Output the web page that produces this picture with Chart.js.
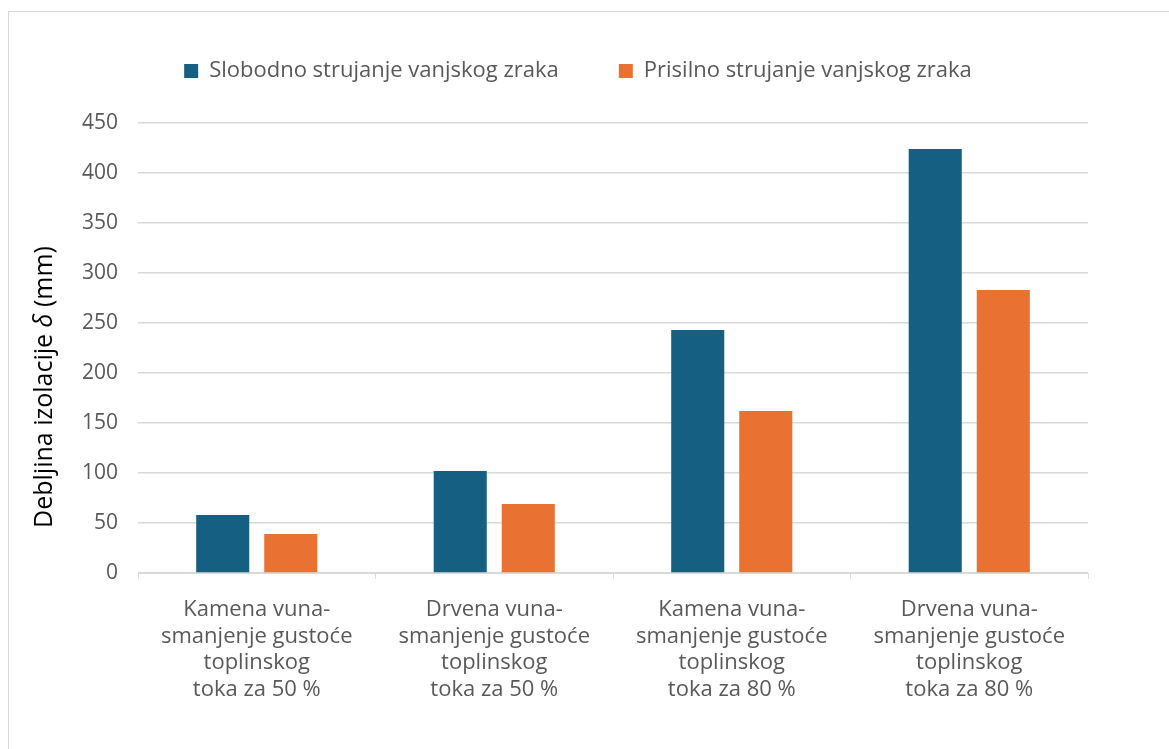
<!DOCTYPE html>
<html>
<head>
<meta charset="utf-8">
<script src="https://cdn.jsdelivr.net/npm/chart.js@4.4.1/dist/chart.umd.min.js"></script>
<style>
  html,body{margin:0;padding:0;background:#fff;overflow:hidden;}
  #wrap{position:relative;width:1169px;height:749px;overflow:hidden;}
  #frame{position:absolute;left:8px;top:11px;width:1300px;height:900px;border:1px solid #d9d9d9;pointer-events:none;}
  canvas{position:absolute;left:0;top:0;}
</style>
</head>
<body>
<div id="wrap">
  <canvas id="c" width="1169" height="749"></canvas>
  <div id="frame"></div>
</div>
<script>
const categories = [
  ["Kamena vuna-", "smanjenje gustoće", "toplinskog", "toka za 50 %"],
  ["Drvena vuna-", "smanjenje gustoće", "toplinskog", "toka za 50 %"],
  ["Kamena vuna-", "smanjenje gustoće", "toplinskog", "toka za 80 %"],
  ["Drvena vuna-", "smanjenje gustoće", "toplinskog", "toka za 80 %"]
];
const seriesNames = ["Slobodno strujanje vanjskog zraka", "Prisilno strujanje vanjskog zraka"];
const slobodno = [58, 102, 243, 424];
const prisilno = [39, 69, 162, 283];
const yTitleParts = [["Debljina izolacije ", false], ["δ", true], [" (mm)", false]];

const FONT = "'Open Sans', 'Liberation Sans', sans-serif";
const LEGEND_PAD = 60;

const legendLayout = {
  id: 'legendLayout',
  beforeInit(chart) {
    const lg = chart.legend;
    const fit = lg.fit;
    lg.fit = function () { fit.call(this); this.height = 123; };
  },
  afterLayout(chart) {
    const lg = chart.legend;
    if (!lg || !lg.lineWidths) return;
    const W = lg.lineWidths[0];
    const start = (lg.left + LEGEND_PAD + lg.right - W) / 2;
    const center = start + (W - LEGEND_PAD) / 2;
    const d = 578 - center;
    lg.left += d; lg.right += d;
  }
};

const yTitlePlugin = {
  id: 'yTitle',
  afterDraw(chart) {
    const ctx = chart.ctx;
    const size = 25;
    const fontN = size + "px " + FONT;
    const fontI = "italic " + size + "px " + FONT;
    let total = 0;
    const widths = yTitleParts.map(([t, it]) => { ctx.font = it ? fontI : fontN; const w = ctx.measureText(t).width; total += w; return w; });
    ctx.save();
    ctx.translate(45, 387);
    ctx.rotate(-Math.PI / 2);
    ctx.fillStyle = '#000';
    ctx.textBaseline = 'middle';
    ctx.textAlign = 'left';
    let x = -total / 2;
    yTitleParts.forEach(([t, it], i) => { ctx.font = it ? fontI : fontN; ctx.fillText(t, x, 0); x += widths[i]; });
    ctx.restore();
  }
};

new Chart(document.getElementById('c'), {
  type: 'bar',
  data: {
    labels: categories,
    datasets: [
      { label: seriesNames[0], data: slobodno, backgroundColor: '#156082',
        barPercentage: 0.78, categoryPercentage: 0.573 },
      { label: seriesNames[1], data: prisilno, backgroundColor: '#E97132',
        barPercentage: 0.78, categoryPercentage: 0.573 }
    ]
  },
  plugins: [legendLayout, yTitlePlugin],
  options: {
    responsive: false,
    animation: false,
    devicePixelRatio: 1,
    layout: { padding: { left: 0, right: 81, top: 0, bottom: 0 } },
    plugins: {
      tooltip: { enabled: false },
      legend: {
        position: 'top',
        labels: {
          color: '#595959',
          font: { family: FONT, size: 22 },
          boxWidth: 14, boxHeight: 14,
          padding: LEGEND_PAD
        }
      }
    },
    scales: {
      x: {
        grid: { display: true, offset: true, drawOnChartArea: false, drawTicks: true, tickLength: 6, color: '#d9d9d9', lineWidth: 1 },
        border: { display: true, color: '#d9d9d9', width: 1 },
        ticks: { color: '#595959', font: { family: FONT, size: 22, lineHeight: 1.22 }, padding: 17, maxRotation: 0, autoSkip: false },
        afterFit: (s) => { s.height = 176; }
      },
      y: {
        min: 0, max: 450,
        ticks: { stepSize: 50, color: '#595959', font: { family: FONT, size: 21 }, padding: 20 },
        grid: { color: '#d9d9d9', lineWidth: 1.5, drawTicks: false },
        border: { display: false },
        title: { display: false },
        afterFit: (s) => { s.width = 138; }
      }
    }
  }
});
</script>
</body>
</html>
